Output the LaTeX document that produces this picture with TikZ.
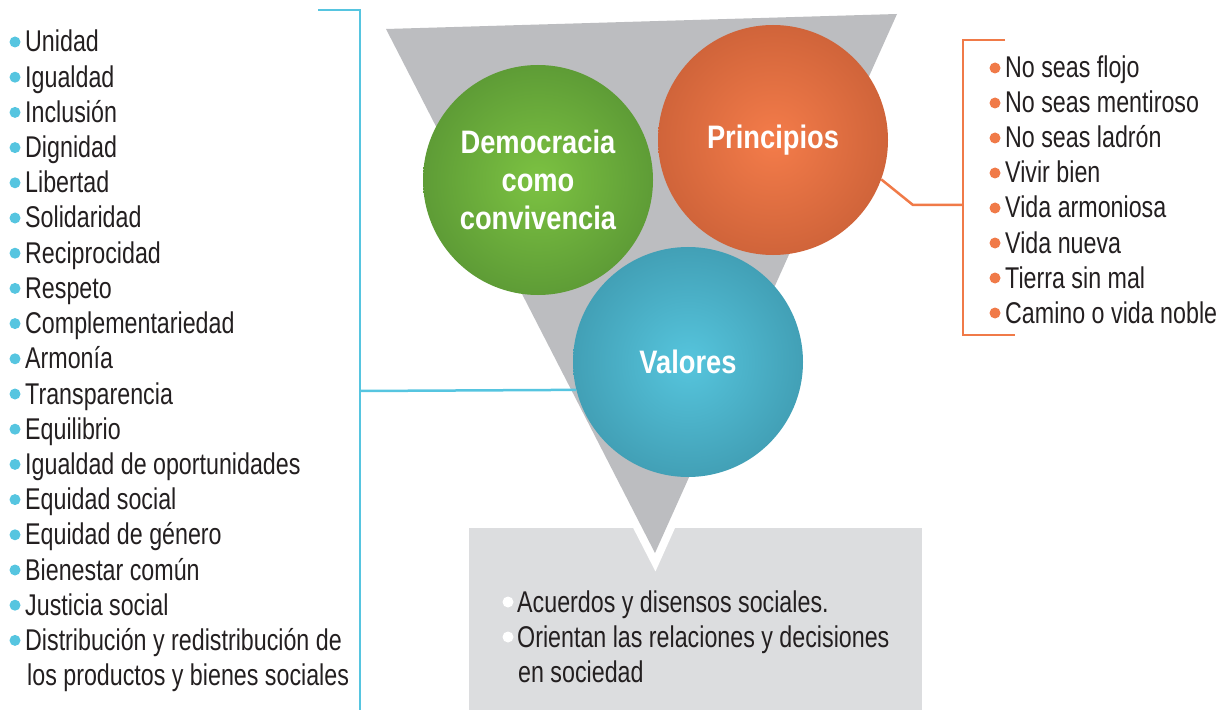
\documentclass[tikz,border=0pt]{standalone}
\usepackage{fontspec}
\setmainfont{Liberation Sans}[FakeStretch=0.775]
\newfontfamily\headfont{Liberation Sans}[FakeStretch=0.84]
\definecolor{textc}{HTML}{231F20}
\definecolor{cyanc}{HTML}{56C5E0}
\definecolor{orangec}{HTML}{F07A48}
\definecolor{trigray}{HTML}{BCBDC0}
\definecolor{boxc}{HTML}{DCDDDF}
\definecolor{greenin}{HTML}{7CC242}
\definecolor{greenout}{HTML}{5E9C36}
\definecolor{orangein}{HTML}{F47C4A}
\definecolor{orangeout}{HTML}{D0643A}
\definecolor{bluein}{HTML}{56C5DD}
\definecolor{blueout}{HTML}{42A0B6}
\begin{document}
\begin{tikzpicture}[x=1bp,y=-1bp,
  txt/.style={anchor=base west,inner sep=0,text=textc,font=\fontsize{30bp}{35bp}\selectfont},
  dotst/.style={circle,inner sep=0,minimum size=11bp},
  ball/.style={circle,minimum size=230bp,inner sep=0,text=white,align=center,
    font=\headfont\bfseries\fontsize{32.5bp}{38bp}\selectfont},
  cline/.style={draw=cyanc,line width=2.5bp},
  oline/.style={draw=orangec,line width=2.5bp}]
\useasboundingbox (0,0) rectangle (1218,710);
% box
\node[fill=boxc,minimum width=453bp,minimum height=184bp,inner sep=0,anchor=north west] (box) at (469,528) {};
% triangle
\coordinate (t1) at (386,29);
\coordinate (t2) at (897,14);
\coordinate (t3) at (655,553);
\draw[white,line width=16bp,miter limit=10] (t1) -- (t2) -- (t3) -- cycle;
\fill[trigray] (t1) -- (t2) -- (t3) -- cycle;
% cyan bracket
\coordinate (c0) at (318,10);
\coordinate (c1) at (360,10);
\coordinate (c2) at (360,712);
\coordinate (c3) at (360,391);
\draw[cline] (c0) -- (c1) -- (c2);
% circles
\node[ball,inner color=greenin,outer color=greenout] (dem) at (538,180) {Democracia\\como\\convivencia};
\node[ball,inner color=orangein,outer color=orangeout] (prin) at (773,140) {Principios};
\node[ball,inner color=bluein,outer color=blueout] (val) at (688,362) {Valores};
\draw[cline] (c3) -- (val.194.6);
% orange bracket
\coordinate (o1) at (913,205);
\coordinate (o2) at (963,205);
\coordinate (o3) at (1005,40);
\coordinate (o4) at (963,40);
\coordinate (o5) at (963,335);
\coordinate (o6) at (1015,335);
\draw[oline] (prin.-20) -- (o1) -- (o2);
\draw[oline] (o3) -- (o4) -- (o5) -- (o6);
% left list
\foreach \t [count=\i] in {Unidad,Igualdad,Inclusión,Dignidad,Libertad,Solidaridad,Reciprocidad,Respeto,Complementariedad,Armonía,Transparencia,Equilibrio,Igualdad de oportunidades,Equidad social,Equidad de género,Bienestar común,Justicia social,Distribución y redistribución de}{
  \node[txt] (l\i) at (25,{52+35.2*(\i-1)}) {\t};
  \node[dotst,fill=cyanc] (lb\i) at (15,{42+35.2*(\i-1)}) {};
}
\node[txt] (l19) at (27,685) {los productos y bienes sociales};
% right list
\foreach \t [count=\i] in {No seas flojo,No seas mentiroso,No seas ladrón,Vivir bien,Vida armoniosa,Vida nueva,Tierra sin mal,Camino o vida noble}{
  \node[txt] (r\i) at (1005,{78+35*(\i-1)}) {\t};
  \node[dotst,fill=orangec] (rb\i) at (995,{68+35*(\i-1)}) {};
}
% box text
\node[txt] (b1) at (517,612) {Acuerdos y disensos sociales.};
\node[dotst,fill=white] (bb1) at (508,602) {};
\node[txt] (b2) at (517,647) {Orientan las relaciones y decisiones};
\node[dotst,fill=white] (bb2) at (508,637) {};
\node[txt] (b3) at (518,682) {en sociedad};
\end{tikzpicture}
\end{document}
